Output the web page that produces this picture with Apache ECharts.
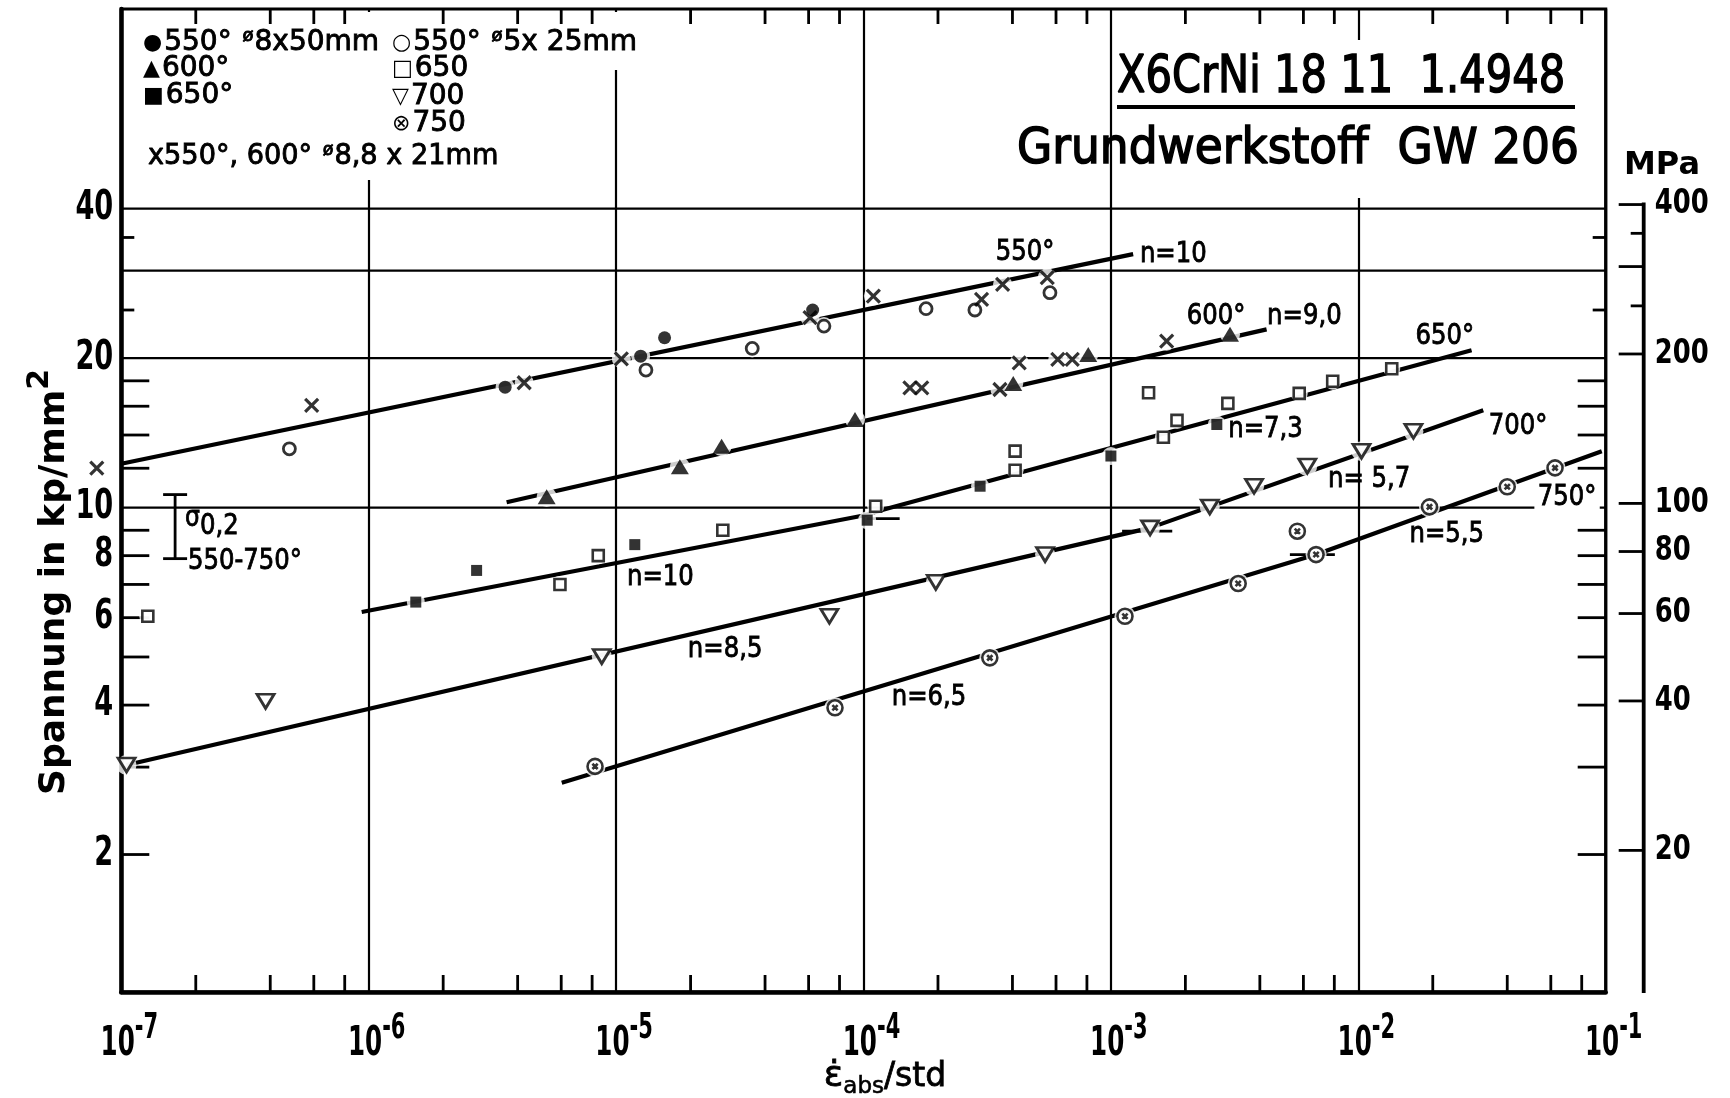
<!DOCTYPE html>
<html>
<head>
<meta charset="utf-8">
<title>X6CrNi 18 11 1.4948 – Grundwerkstoff GW 206</title>
<script src="https://cdn.jsdelivr.net/npm/echarts@6.0.0/dist/echarts.min.js"></script>
<style>
html,body{margin:0;padding:0;background:#fff;}
#chart{width:1730px;height:1098px;}
</style>
</head>
<body>
<div id="chart"></div>
<script>
// ---------------- axis ticks / labels ----------------
const xDecades = [1e-7, 1e-6, 1e-5, 1e-4, 1e-3, 1e-2, 1e-1];
const xMinorMultipliers = [2, 4, 6, 8];
const yGridValues = [10, 20, 30, 40];
const yTicksLong = [2, 3, 4, 5, 6, 7, 8, 9, 12, 14, 16, 18];
const yTicksShort = [25, 35];
const yLabelValues = [2, 4, 6, 8, 10, 20, 40];
const mpaTicksLong = [20, 40, 60, 80, 100, 200, 300, 400];
const mpaTicksShort = [250, 350];
const mpaLabelValues = [20, 40, 60, 80, 100, 200, 400];

// ---------------- measured points [strain rate 1/std, stress kp/mm²] ----------------
const s550_8x50 = [[3.56e-6,17.48],[1.257e-5,20.18],[1.57e-5,21.98],[6.23e-5,25.0]];
const s550_5x25 = [[4.78e-7,13.13],[1.32e-5,18.92],[3.55e-5,20.92],[6.92e-5,23.2],[1.79e-4,25.16],[2.82e-4,25.0],[5.67e-4,27.09]];
const s600 = [[5.24e-6,10.51],[1.81e-5,12.08],[2.67e-5,13.29],[9.24e-5,15.04],[4.03e-4,17.78],[8.1e-4,20.35],[3.03e-3,22.33]];
const s650filled = [[1.55e-6,6.45],[2.73e-6,7.47],[1.19e-5,8.42],[1.035e-4,9.43],[2.96e-4,11.04],[1.0e-3,12.7],[2.68e-3,14.7]];
const s650open = [[1.28e-7,6.04],[5.93e-6,7.0],[8.47e-6,8.0],[2.70e-5,9.0],[1.12e-4,10.06],[4.1e-4,11.89],[4.1e-4,12.99],[1.42e-3,17.03],[1.63e-3,13.86],[1.85e-3,14.98],[2.97e-3,16.21],[5.77e-3,16.98],[7.88e-3,17.97],[1.365e-2,19.04]];
const s700 = [[1.05e-7,3.03],[3.83e-7,4.07],[8.75e-6,5.01],[7.28e-5,6.04],[1.96e-4,7.07],[5.42e-4,8.04],[1.44e-3,9.10],[2.51e-3,10.03],[3.79e-3,11.04],[6.22e-3,12.12],[1.03e-2,12.99],[1.67e-2,14.25]];
const s750 = [[8.22e-6,3.01],[7.67e-5,3.95],[3.24e-4,4.98],[1.14e-3,6.04],[3.27e-3,7.03],[5.67e-3,8.96],[6.75e-3,8.04],[1.94e-2,10.03],[4.0e-2,11.01],[6.24e-2,12.02]];
const sCross = [[7.96e-8,12.0],[5.88e-7,16.06],[4.25e-6,17.84],[1.05e-5,19.94],[6.08e-5,24.12],[1.096e-4,26.67],[3.0e-4,26.26],[3.65e-4,28.16],[5.53e-4,29.04],[1.54e-4,17.43],[1.72e-4,17.43],[3.56e-4,17.29],[4.26e-4,19.57],[6.1e-4,19.88],[6.98e-4,19.88],[1.68e-3,21.64]];

// ---------------- fitted lines ----------------
const fit550 = [[1e-7,12.25],[1.23e-3,32.4]];
const fit600 = [[3.61e-6,10.25],[4.26e-3,22.85]];
const fit650 = [[9.37e-7,6.16],[1.0e-4,9.64],[1.24e-4,9.94],[2.87e-2,20.75]];
const fit700 = [[1.05e-7,3.03],[1.44e-3,9.1],[3.2e-2,15.71]];
const fit750 = [[6.03e-6,2.79],[6.75e-3,8.04],[9.64e-2,12.99]];

// short horizontal marks [x1, y1, x2, y2]
const arrowTicks = [[1.03e-4,9.5,1.4e-4,9.5],[1.11e-3,8.96,1.77e-3,8.96],[5.29e-3,8.04,8.04e-3,8.04]];
// sigma 0.2 range bar [x, low, high]
const sigma02Range = [[1.65e-7,7.89,10.62]];

// curve annotations [text, x, y, align, whiteBackground]
const curveLabels = [
  ['550°', 4.50e-4, 32.7, 'center', 0],
  ['n=10', 1.31e-3, 32.4, 'left', 0],
  ['600°', 2.66e-3, 24.27, 'center', 0],
  ['n=9,0', 4.28e-3, 24.27, 'left', 0],
  ['650°', 2.24e-2, 22.13, 'center', 0],
  ['n=7,3', 2.98e-3, 14.37, 'left', 0],
  ['n=10', 1.107e-5, 7.23, 'left', 0],
  ['700°', 4.42e-2, 14.57, 'center', 0],
  ['n= 5,7', 7.54e-3, 11.39, 'left', 0],
  ['n=8,5', 1.95e-5, 5.17, 'left', 0],
  ['750°', 6.98e-2, 10.48, 'center', 1],
  ['n=5,5', 1.61e-2, 8.82, 'left', 0],
  ['n=6,5', 1.30e-4, 4.14, 'left', 0],
  ['{s|σ}{b|0,2}', 1.81e-7, 9.33, 'left', 0],
  ['550-750°', 1.86e-7, 7.78, 'left', 0]
];

// ---------------- chart ----------------
const FF = "'DejaVu Sans', sans-serif";
const Y_MIN = 1.057, Y_MAX = 101, KP2MPA = 9.81;
const MPA_OFFSET = 38;
const chart = echarts.init(document.getElementById('chart'), null, {renderer: 'canvas', width: 1730, height: 1098});

function custom(o) {
  return Object.assign({type: 'custom', coordinateSystem: 'cartesian2d', xAxisIndex: 0, yAxisIndex: 0,
    clip: false, silent: true, encode: {x: 0, y: 1}}, o);
}
function textEl(x, y, text, o) {
  return {type: 'text', x: x, y: y, scaleX: o.sx || 1, z2: 10,
    style: {text: text, fill: '#000', fontSize: o.size, fontFamily: FF, fontWeight: o.weight || 'normal',
      stroke: o.stroke ? '#000' : undefined, lineWidth: o.stroke || 0,
      align: o.align || 'left', verticalAlign: o.va || 'middle', rich: o.rich,
      backgroundColor: o.bg, padding: o.pad}};
}

const frameTickData = [];
xDecades.slice(0, -1).forEach(d => xMinorMultipliers.forEach(m => frameTickData.push([d * m, 2, 0])));
yTicksLong.forEach(v => frameTickData.push([1e-4, v, 1]));
yTicksShort.forEach(v => frameTickData.push([1e-4, v, 2]));

const mpaData = [[1e-4, 400, 0]];
mpaTicksLong.forEach(v => mpaData.push([1e-4, v, 1]));
mpaTicksShort.forEach(v => mpaData.push([1e-4, v, 2]));

const LINE = {stroke: '#000', lineWidth: 2.8};

function halo(data, size) {
  return {type: 'scatter', data: data, symbol: 'circle', symbolSize: size, clip: false, silent: true,
    itemStyle: {color: '#fff'}, z: 4};
}
function markers(name, data, symbol, size, filled, bw, extra) {
  return Object.assign({type: 'scatter', name: name, data: data, symbol: symbol, symbolSize: size, clip: false, z: 5,
    itemStyle: {color: filled ? '#000' : '#fff', borderColor: '#000', borderWidth: bw}}, extra || {});
}
function fitLine(name, data) {
  return {type: 'line', name: name, data: data, symbol: 'none', z: 3, silent: true,
    lineStyle: {color: '#000', width: 4.2}};
}

const CROSS = 'path://M0,0L10,10M10,0L0,10';
const CIRCX = 'path://M10,0A10,10,0,1,1,10,20A10,10,0,1,1,10,0ZM6.5,6.5L13.5,13.5M13.5,6.5L6.5,13.5';
const TRI_DOWN = 'path://M0,0L20,0L10,17Z';

const series = [
  // horizontal grid lines
  custom({name: 'grid', z: 0, data: yGridValues.map(v => [1e-4, v]),
    renderItem: (p, api) => {
      const c = p.coordSys; const y = api.coord([api.value(0), api.value(1)])[1];
      return {type: 'line', shape: {x1: c.x, y1: y, x2: c.x + c.width, y2: y}, style: {stroke: '#000', lineWidth: 2.2}};
    }}),
  // frame ticks
  custom({name: 'ticks', z: 3, data: frameTickData,
    renderItem: (p, api) => {
      const c = p.coordSys; const pt = api.coord([api.value(0), api.value(1)]); const k = api.value(2);
      if (k === 0) {
        const b = c.y + c.height, t = c.y;
        return {type: 'group', children: [
          {type: 'line', shape: {x1: pt[0], y1: b, x2: pt[0], y2: b - 17}, style: LINE},
          {type: 'line', shape: {x1: pt[0], y1: t, x2: pt[0], y2: t + 15}, style: LINE}]};
      }
      const len = k === 1 ? 28 : 13; const l = c.x, r = c.x + c.width;
      return {type: 'group', children: [
        {type: 'line', shape: {x1: l, y1: pt[1], x2: l + len, y2: pt[1]}, style: LINE},
        {type: 'line', shape: {x1: r, y1: pt[1], x2: r - len, y2: pt[1]}, style: LINE}]};
    }}),
  // left y labels
  custom({name: 'ylabels', z: 6, data: yLabelValues.map(v => [1e-7, v]),
    renderItem: (p, api) => {
      const pt = api.coord([api.value(0), api.value(1)]);
      return textEl(pt[0] - 8, pt[1], String(api.value(1)), {size: 40, weight: 'bold', align: 'right', sx: 0.68});
    }}),
  // x labels
  custom({name: 'xlabels', z: 6, data: xDecades.map(d => [d, Y_MIN]),
    renderItem: (p, api) => {
      const pt = api.coord([api.value(0), api.value(1)]);
      const e = Math.round(Math.log10(api.value(0)));
      return textEl(pt[0] + 8, pt[1] + 46, '{m|10}{e|' + e + '}', {sx: 0.6, align: 'center', rich: {
        m: {fontSize: 41, fontWeight: 'bold', fontFamily: FF, lineHeight: 54, verticalAlign: 'bottom'},
        e: {fontSize: 35, fontWeight: 'bold', fontFamily: FF, lineHeight: 54, verticalAlign: 'top'}}});
    }}),
  // MPa axis line and ticks
  custom({name: 'mpa', yAxisIndex: 1, z: 3, data: mpaData,
    renderItem: (p, api) => {
      const c = p.coordSys; const ax = c.x + c.width + MPA_OFFSET;
      const pt = api.coord([api.value(0), api.value(1)]); const k = api.value(2);
      if (k === 0) return {type: 'line', shape: {x1: ax, y1: pt[1] - 2, x2: ax, y2: c.y + c.height + 1}, style: {stroke: '#000', lineWidth: 3.8}};
      const len = k === 1 ? 25 : 13;
      return {type: 'line', shape: {x1: ax, y1: pt[1], x2: ax - len, y2: pt[1]}, style: LINE};
    }}),
  custom({name: 'mpalabels', yAxisIndex: 1, z: 6, data: mpaLabelValues.map(v => [1e-4, v]),
    renderItem: (p, api) => {
      const c = p.coordSys; const ax = c.x + c.width + MPA_OFFSET;
      const pt = api.coord([api.value(0), api.value(1)]);
      return textEl(ax + 11, pt[1], String(api.value(1)), {size: 34, weight: 'bold', sx: 0.76});
    }}),
  // sigma 0.2 bar
  custom({name: 'sigma', z: 3, data: sigma02Range,
    renderItem: (p, api) => {
      const lo = api.coord([api.value(0), api.value(1)]); const hi = api.coord([api.value(0), api.value(2)]);
      return {type: 'group', children: [
        {type: 'line', shape: {x1: lo[0], y1: lo[1], x2: hi[0], y2: hi[1]}, style: LINE},
        {type: 'line', shape: {x1: lo[0] - 12, y1: lo[1], x2: lo[0] + 12, y2: lo[1]}, style: LINE},
        {type: 'line', shape: {x1: hi[0] - 12, y1: hi[1], x2: hi[0] + 12, y2: hi[1]}, style: LINE}]};
    }}),
  // short horizontal marks
  custom({name: 'marks', z: 3, data: arrowTicks,
    renderItem: (p, api) => {
      const a = api.coord([api.value(0), api.value(1)]); const b = api.coord([api.value(2), api.value(3)]);
      return {type: 'line', shape: {x1: a[0], y1: a[1], x2: b[0], y2: b[1]}, style: LINE};
    }}),
  // fitted lines
  fitLine('550°', fit550), fitLine('600°', fit600), fitLine('650°', fit650),
  fitLine('700°', fit700), fitLine('750°', fit750),
  // halos (gaps of the lines around the markers)
  halo(s550_8x50, 19), halo(s550_5x25, 18), halo(s600, 20), halo(s650filled, 18), halo(s650open, 17),
  halo(s700, 20), halo(s750, 21), halo(sCross, 19),
  // markers
  markers('550° ø8x50mm', s550_8x50, 'circle', 13, true, 0),
  markers('550° ø5x25mm', s550_5x25, 'circle', 12, false, 2.8),
  markers('600°', s600, 'triangle', [18, 15], true, 0),
  markers('650° ■', s650filled, 'rect', 11, true, 0),
  markers('650 □', s650open, 'rect', 11, false, 2.6),
  markers('700', s700, TRI_DOWN, [17, 14], false, 2.8),
  markers('750', s750, CIRCX, 15, false, 2.6),
  markers('550°, 600° ø8,8x21mm', sCross, CROSS, 13, true, 3.2),
  // curve annotations
  custom({name: 'annot', z: 6, data: curveLabels.map(l => [l[1], l[2]]),
    renderItem: (p, api) => {
      const L = curveLabels[p.dataIndex]; const pt = api.coord([api.value(0), api.value(1)]);
      return textEl(pt[0], pt[1], L[0], {size: 29, align: L[3], sx: 0.84, stroke: 0.9,
        bg: L[4] ? '#fff' : undefined, pad: L[4] ? [0, 4, 0, 4] : undefined,
        rich: {s: {fontSize: 28, fontFamily: FF, lineHeight: 36, verticalAlign: 'top', stroke: '#000', lineWidth: 0.9},
               b: {fontSize: 29, fontFamily: FF, lineHeight: 36, verticalAlign: 'bottom', stroke: '#000', lineWidth: 0.9}}});
    }})
];

const TS = {stroke: '#000', lineWidth: 0.9};
const legendRich = {
  t: Object.assign({fontSize: 28, fontFamily: FF, lineHeight: 32, verticalAlign: 'middle'}, TS),
  y: {fontSize: 22, fontFamily: FF, lineHeight: 32, verticalAlign: 'middle', padding: [0, 2, 0, 0]},
  d: Object.assign({fontSize: 18, fontFamily: FF, lineHeight: 32, verticalAlign: 'top', padding: [0, 1, 0, 2]}, TS)
};
function gText(x, y, text, size, o) {
  o = o || {};
  return {type: 'text', x: x, y: y, z: 20, scaleX: o.sx || 1, rotation: o.rot || 0,
    style: {text: text, fill: '#000', fontSize: size, fontFamily: FF, fontWeight: o.weight || 'normal',
      stroke: o.stroke ? '#000' : null, lineWidth: o.stroke || 0,
      textAlign: o.align || 'left', textVerticalAlign: 'middle', align: o.align || 'left', verticalAlign: 'middle',
      rich: o.rich}};
}

const option = {
  animation: false,
  backgroundColor: '#fff',
  grid: {left: 121.3, right: 124.3, top: 9, bottom: 106, show: true, borderColor: '#000', borderWidth: 3.2, backgroundColor: 'transparent'},
  xAxis: {type: 'log', logBase: 10, min: 1e-7, max: 1e-1, splitNumber: 6,
    axisLine: {show: true, onZero: false, lineStyle: {color: '#000', width: 4.5}},
    axisTick: {show: false}, axisLabel: {show: false}, minorTick: {show: false},
    splitLine: {show: true, lineStyle: {color: '#000', width: 2.2}}},
  yAxis: [
    {type: 'log', logBase: 10, min: Y_MIN, max: Y_MAX,
      axisLine: {show: true, lineStyle: {color: '#000', width: 4.5}},
      axisTick: {show: false}, axisLabel: {show: false}, splitLine: {show: false}},
    {type: 'log', logBase: 10, min: Y_MIN * KP2MPA, max: Y_MAX * KP2MPA, show: false, position: 'right',
      splitLine: {show: false}}
  ],
  series: series,
  graphic: [
    {type: 'rect', shape: {x: 126, y: 12, width: 476, height: 168}, style: {fill: '#fff'}, z: 1},
    {type: 'rect', shape: {x: 600, y: 12, width: 42, height: 58}, style: {fill: '#fff'}, z: 1},
    {type: 'rect', shape: {x: 1116, y: 40, width: 486, height: 158}, style: {fill: '#fff'}, z: 1},
    gText(143, 43, '{y|●}{t|550° }{d|ø}{t|8x50mm}', 28, {rich: legendRich}),
    gText(392, 43, '{y|○}{t|550° }{d|ø}{t|5x 25mm}', 28, {rich: legendRich}),
    gText(143, 69, '{y|▲}{t|600°}', 28, {rich: legendRich}),
    gText(392, 69, '{y|□}{t|650}', 28, {rich: legendRich}),
    gText(143, 96, '{y|■}{t|650°}', 28, {rich: legendRich}),
    gText(392, 97, '{y|▽}{t|700}', 28, {rich: legendRich}),
    gText(392, 124, '{y|⊗}{t|750}', 28, {rich: legendRich}),
    gText(148, 157, '{t|x550°, 600° }{d|ø}{t|8,8 x 21mm}', 28, {rich: legendRich, sx: 0.97}),
    gText(1117, 78, 'X6CrNi 18 11  1.4948', 52, {sx: 0.8, stroke: 1.6}),
    {type: 'line', shape: {x1: 1117, y1: 107, x2: 1575, y2: 107}, style: {stroke: '#000', lineWidth: 3.8}, z: 20},
    gText(1017, 150, 'Grundwerkstoff  GW 206', 50, {sx: 0.91, stroke: 1.6}),
    gText(1662, 166, 'MPa', 32, {weight: 'bold', align: 'center'}),
    gText(49, 582, '{a|Spannung in kp/mm}{s|2}', 36, {rot: Math.PI / 2, align: 'center', rich: {
      a: {fontSize: 36, fontWeight: 'bold', fontFamily: FF, lineHeight: 48, verticalAlign: 'bottom'},
      s: {fontSize: 30, fontWeight: 'bold', fontFamily: FF, lineHeight: 48, verticalAlign: 'top'}}}),
    gText(885, 1077, '{e|ε\u0307}{a|abs}{t|/std}', 32, {align: 'center', rich: {
      e: {fontSize: 36, fontFamily: FF, lineHeight: 44, verticalAlign: 'middle', stroke: '#000', lineWidth: 0.8},
      a: {fontSize: 23, fontFamily: FF, lineHeight: 44, verticalAlign: 'bottom', stroke: '#000', lineWidth: 0.6},
      t: {fontSize: 33, fontFamily: FF, lineHeight: 44, verticalAlign: 'middle', stroke: '#000', lineWidth: 0.8}}})
  ]
};
chart.setOption(option);
</script>
</body>
</html>
